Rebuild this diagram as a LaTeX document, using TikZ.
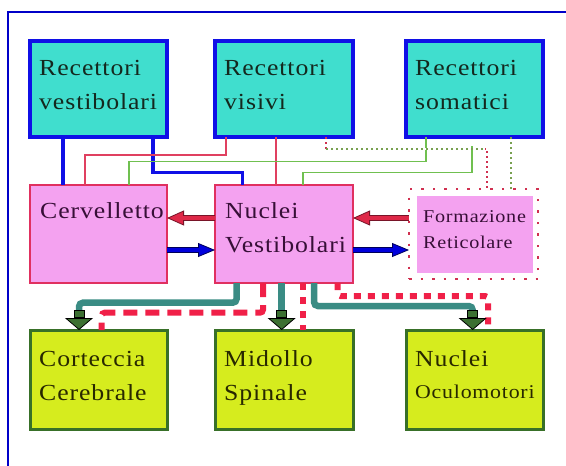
\documentclass[tikz,border=0pt]{standalone}
\usepackage{fontspec}
\setmainfont{Liberation Serif}[FakeStretch=1.12,LetterSpace=4]
\usetikzlibrary{arrows.meta,calc}
\definecolor{cyanfill}{RGB}{64,222,206}
\definecolor{boxblue}{RGB}{16,16,230}
\definecolor{pinkfill}{RGB}{244,162,240}
\definecolor{pinkborder}{RGB}{224,48,96}
\definecolor{yfill}{RGB}{214,236,30}
\definecolor{yborder}{RGB}{56,112,40}
\definecolor{tealc}{RGB}{58,140,132}
\definecolor{dashred}{RGB}{240,32,72}
\definecolor{thinred}{RGB}{224,64,96}
\definecolor{thingreen}{RGB}{112,192,80}
\definecolor{dotred}{RGB}{208,48,80}
\definecolor{dotgreen}{RGB}{120,160,80}
\definecolor{headgreen}{RGB}{60,112,50}
\definecolor{arrred}{RGB}{222,40,72}
\definecolor{arrreddark}{RGB}{120,20,40}
\definecolor{arrblue}{RGB}{0,0,220}
\definecolor{arrbluedark}{RGB}{0,0,90}
\definecolor{framec}{RGB}{0,0,200}
\definecolor{txtcyan}{RGB}{20,40,30}
\definecolor{txtpink}{RGB}{55,15,55}
\definecolor{txtyel}{RGB}{40,40,0}
\newcommand{\boxtxt}[2]{\begin{tabular}[t]{@{}l@{}}#1\\#2\end{tabular}}
\tikzset{
 cyanbox/.style={draw=boxblue, fill=cyanfill, line width=3.5pt, inner sep=0pt, outer sep=0pt, minimum height=96pt},
 pinkbox/.style={draw=pinkborder, fill=pinkfill, line width=2pt, inner sep=0pt, outer sep=0pt, minimum height=98pt},
 ybox/.style={draw=yborder, fill=yfill, line width=3pt, inner sep=0pt, outer sep=0pt, minimum height=99.5pt},
 dotframe/.style={draw=dotred, line width=2.5pt, dash pattern=on 2.5pt off 9pt, minimum width=129pt, minimum height=90pt, inner sep=0pt, outer sep=0pt},
 pinkpatch/.style={fill=pinkfill, minimum width=116pt, minimum height=77pt, inner sep=0pt, outer sep=0pt},
 txt/.style={inner sep=0pt, anchor=base west, font=\fontsize{23}{34}\selectfont},
 bluethick/.style={draw=boxblue, line width=3.5pt},
 redthin/.style={draw=thinred, line width=1.2pt},
 greenthin/.style={draw=thingreen, line width=1.2pt},
 reddot/.style={draw=dotred, line width=1.8pt, dash pattern=on 1.8pt off 3.2pt},
 greendot/.style={draw=dotgreen, line width=1.8pt, dash pattern=on 1.8pt off 3.2pt},
 tealarrow/.style={draw=tealc, line width=6.5pt, rounded corners=4pt,
   -{Rectangle[length=8pt 0,width=11pt 0,line width=0.8pt,color=black,fill=headgreen]Triangle[length=12pt 0,width=28pt 0,line width=0.8pt,color=black,fill=headgreen]}},
 reddash/.style={draw=dashred, line width=6pt, rounded corners=3pt},
 redblock/.style={draw=arrreddark, line width=6.4pt,
   -{Triangle[length=17pt 0,width=15pt 0,line width=0.8pt,fill=arrred]},
   postaction={draw=arrred, line width=4.8pt, -, shorten >=16pt}},
 blueblock/.style={draw=arrbluedark, line width=6.4pt,
   -{Triangle[length=17pt 0,width=14pt 0,line width=0.8pt,fill=arrblue]},
   postaction={draw=arrblue, line width=4.8pt, -, shorten >=16pt}},
}
\begin{document}
\begin{tikzpicture}[x=1pt,y=-1pt]
\useasboundingbox (0,0) rectangle (566,466);
\fill[white] (0,0) rectangle (566,466);
\draw[framec, line width=2pt] (566,12) -- (8,12) -- (8,466);

% boxes
\node[cyanbox, minimum width=137pt] (rv) at (98.5,89) {};
\node[cyanbox, minimum width=138pt] (rvis) at (284,89) {};
\node[cyanbox, minimum width=137pt] (rs) at (474.5,89) {};
\node[pinkbox, minimum width=137pt] (cb) at (98.5,234) {};
\node[pinkbox, minimum width=138pt] (nv) at (284,234) {};
\node[dotframe] (ff) at (473.5,234) {};
\node[pinkpatch] (fr) at (475,234.5) {};
\node[ybox, minimum width=137pt] (cc) at (98.5,379.75) {};
\node[ybox, minimum width=138pt] (md) at (284,379.75) {};
\node[ybox, minimum width=137pt] (no) at (474.5,379.75) {};

% texts
\node[txt, text=txtcyan] (trv) at ([shift={(9,34)}]rv.north west) {\boxtxt{Recettori}{vestibolari}};
\node[txt, text=txtcyan] (trvis) at ([shift={(9,34)}]rvis.north west) {\boxtxt{Recettori}{visivi}};
\node[txt, text=txtcyan] (trs) at ([shift={(9,34)}]rs.north west) {\boxtxt{Recettori}{somatici}};
\node[txt, text=txtpink] (tcb) at ([shift={(10,33)}]cb.north west) {Cervelletto};
\node[txt, text=txtpink] (tnv) at ([shift={(10,33)}]nv.north west) {\boxtxt{Nuclei}{Vestibolari}};
\node[txt, text=txtpink, font=\fontsize{18}{25.5}\selectfont] (tfr) at ([shift={(6,26.5)}]fr.north west) {\boxtxt{Formazione}{Reticolare}};
\node[txt, text=txtyel] (tcc) at ([shift={(9,36.5)}]cc.north west) {\boxtxt{Corteccia}{Cerebrale}};
\node[txt, text=txtyel] (tmd) at ([shift={(9,36.5)}]md.north west) {\boxtxt{Midollo}{Spinale}};
\node[txt, text=txtyel] (tno) at ([shift={(9,36.5)}]no.north west) {\begin{tabular}[t]{@{}l@{}}Nuclei\\[-2pt]\fontsize{19.5}{26}\selectfont Oculomotori\end{tabular}};

% top connectors
\draw[bluethick] ([xshift=33pt]rv.south west) -- ([xshift=33pt]cb.north west);
\draw[bluethick] ([xshift=123pt]rv.south west) -- ++(0,35.7) -| ([xshift=27.7pt]nv.north west);
\draw[redthin] ([xshift=11pt]rvis.south west) -- ++(0,18) -| ([xshift=55pt]cb.north west);
\draw[redthin] ([xshift=61pt]rvis.south west) -- ([xshift=61pt]nv.north west);
\draw[greenthin] ([xshift=20pt]rs.south west) -- ++(0,24.7) -| ([xshift=99pt]cb.north west);
\coordinate (g2s) at ([xshift=66pt,yshift=-9pt]rs.south west);
\draw[greenthin] (g2s) -- ++(0,26.7) -| ([xshift=88pt]nv.north west);
\coordinate (d1) at ([xshift=111pt,yshift=-12pt]rvis.south west);
\coordinate (d2) at ([xshift=78pt]ff.north west);
\draw[reddot] ([xshift=111pt]rvis.south west) -- (d1) -| (d2);
\draw[draw=white, line width=2.2pt] (d1) -- ($(d1 -| d2)+(-2,0)$);
\draw[greendot] (d1) -- ($(d1 -| d2)+(-2,0)$);
\draw[greendot] ([xshift=105pt]rs.south west) -- ([xshift=102pt]ff.north west);

% block arrows
\draw[redblock] ([yshift=16pt]nv.west) -- ([yshift=16pt]cb.east);
\draw[blueblock] ([yshift=-16pt]cb.east) -- ([yshift=-16pt]nv.west);
\draw[redblock] ([yshift=16pt]ff.west) -- ([yshift=16pt]nv.east);
\draw[blueblock] ([yshift=-16pt]nv.east) -- ([yshift=-16pt]ff.west);

% bottom connectors
\draw[reddash, dash pattern=on 14pt off 8pt] ([xshift=48pt]nv.south west) -- ++(0,29.7) -| ([xshift=71.7pt]cc.north west);
\draw[reddash, dash pattern=on 7pt off 7pt] ([xshift=87.7pt]nv.south west) -- ([xshift=87.7pt]md.north west);
\draw[reddash, dash pattern=on 7pt off 7pt] ([xshift=122.5pt]nv.south west) -- ++(0,13) -| ([xshift=82pt]no.north west);
\draw[tealarrow] ([xshift=21.7pt]nv.south west) -- ++(0,19.7) -| ([xshift=49pt]cc.north west);
\draw[tealarrow] ([xshift=66.7pt]nv.south west) -- ([xshift=66.7pt]md.north west);
\draw[tealarrow] ([xshift=99pt]nv.south west) -- ++(0,23) -| ([xshift=66.7pt]no.north west);
\end{tikzpicture}
\end{document}
